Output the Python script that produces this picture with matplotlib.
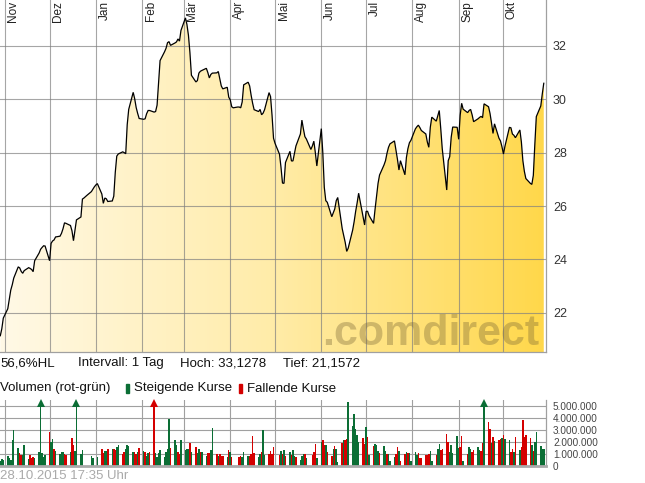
import numpy as np
import pandas as pd
import matplotlib
matplotlib.use('Agg')
import matplotlib.pyplot as plt
import matplotlib.dates as mdates
from matplotlib.path import Path
from matplotlib.colors import LinearSegmentedColormap

plt.rcParams['font.family'] = ['Liberation Sans', 'DejaVu Sans']

# ---------------- data ----------------
dates = pd.bdate_range('2014-10-29', '2015-10-28')

prices = [
    21.14, 21.4, 21.8,
    22.15, 22.5, 22.85, 23.05, 23.3,
    23.72, 23.68, 23.55, 23.48, 23.58,
    23.69, 23.66, 23.62, 23.54, 23.95,
    24.24, 24.38, 24.45, 24.51, 24.5,
    23.95, 24.6, 24.69, 24.73, 24.84,
    24.87, 24.98, 25.15, 25.37, 25.35,
    25.27, 25.07, 24.7, 25.1, 25.48,
    25.59, 26.26, 26.3, 26.35, 26.4,
    26.54, 26.63, 26.72, 26.79, 26.84,
    26.45, 26.10, 26.3, 26.27, 26.17,
    26.19, 26.37, 27.26, 27.87, 27.95,
    28.03, 28.0, 27.96, 29.05, 29.62,
    30.26, 30.02, 29.69, 29.47, 29.28,
    29.25, 29.27, 29.46, 29.58, 29.58,
    29.52, 29.54, 29.78, 30.6, 31.45,
    31.78, 31.91, 32.12, 32.16, 32.02,
    32.11, 32.15, 32.26, 32.18, 32.58,
    33.05, 32.8, 32.4, 31.75, 30.9,
    30.65, 30.7, 30.98, 31.05, 31.08,
    31.16, 31.0, 30.8, 30.93, 30.98,
    30.99, 31.04, 30.76, 30.5, 30.39,
    30.45, 30.08, 29.98, 29.72, 29.68,
    29.71, 29.71, 29.68, 29.9, 30.54,
    30.64, 30.5, 30.15, 29.85, 29.61,
    29.54, 29.62, 29.42, 29.48, 29.61,
    30.25, 30.1, 29.4, 28.54, 28.35,
    27.94, 27.45, 26.86, 26.85, 27.63,
    28.05, 27.69, 27.69, 27.96, 28.25,
    28.7, 29.22, 28.89, 28.6, 28.51,
    28.12, 28.25, 28.43, 28.0, 27.5,
    28.9, 28.0, 26.7, 26.2, 26.14,
    25.6, 25.74, 25.89, 26.2, 26.32,
    25.15, 24.9, 24.64, 24.3, 24.42,
    25.1, 25.42, 25.8, 26.12, 26.48,
    25.58, 25.29, 25.8, 25.8, 25.64,
    25.35, 25.88, 26.35, 26.85, 27.16,
    27.54, 27.7, 27.98, 28.2, 28.33,
    28.44, 28.1, 27.75, 27.35, 27.7,
    27.17, 27.82, 28.15, 28.37, 28.46,
    28.89, 28.97, 29.03, 28.94, 28.83,
    28.7, 28.4, 28.2, 28.95, 29.33,
    29.18, 29.38, 29.58, 28.9, 28.15,
    26.6, 27.7, 27.85, 28.58, 28.96,
    28.95, 28.5, 29.4, 29.85, 29.63,
    29.5, 29.58, 29.62, 29.42, 29.16,
    29.27, 29.32, 29.36, 29.31, 29.83,
    29.72, 29.47, 29.11, 28.72, 29.08,
    28.54, 28.44, 28.22, 27.95, 28.24,
    28.95, 28.93, 28.7, 28.65, 28.56,
    28.85, 28.4, 27.7, 27.3, 27.03,
    26.85, 26.81, 27.15, 28.3, 29.35,
    29.75, 30.2, 30.6,
]

# daily volume in millions of shares
volumes_mio = [
    0.39, 0.56, 0.45,
    0.81, 0.67, 0.47, 2.15, 2.99,
    1.51, 1.03, 0.89, 0.89, 1.73,
    0.56, 0.89, 0.67, 0.75, 0.67,
    1.12, 6.5, 1.03, 0.75, 0.89,
    2.79, 2.01, 2.23, 1.40, 1.23,
    1.0, 1.12, 1.17, 0.95, 0.89,
    1.12, 2.29, 1.68, 1.23, 6.5,
    0.95, 1.31, 0, 0, 0,
    0.81, 0.61, 0, 0, 0.73,
    1.40, 1.03, 1.23, 1.23, 1.40,
    1.40, 1.40, 1.31, 1.59, 1.73,
    0.95, 1.12, 1.40, 1.73, 1.65,
    1.12, 1.12, 1.0, 1.17, 1.45,
    1.23, 1.12, 0.81, 1.03, 1.12,
    6.5, 1.03, 0.75, 1.03, 1.31,
    0.75, 1.12, 1.40, 3.91, 1.45,
    2.15, 1.68, 1.12, 0.95, 2.15,
    1.31, 1.40, 1.40, 1.87, 1.12,
    1.54, 1.03, 1.40, 1.17, 1.12,
    0.81, 1.03, 1.03, 1.31, 3.13,
    0.95, 0.81, 0.95, 0.81, 0.81,
    0.75, 1.31, 1.12, 0.73, 0,
    0, 0.73, 0.81, 0.73, 1.12,
    0.81, 0.81, 0.95, 2.49, 1.03,
    0.73, 0.95, 1.12, 2.99, 0.89,
    0.95, 1.23, 0.95, 1.59, 0,
    0.9, 1.2, 1.0, 1.3, 0.8,
    1.1, 0.9, 1.3, 0.8, 0.7,
    0.5, 0.8, 1.0, 1.0, 0.6,
    0, 0.9, 1.1, 1.83, 0.6,
    1.97, 2.1, 1.69, 1.74, 1.12,
    0.79, 1.35, 1.63, 1.35, 0.3,
    1.91, 2.1, 2.1, 2.19, 5.48,
    3.31, 4.35, 3.03, 2.58, 1.97,
    2.3, 1.83, 3.23, 2.39, 0.9,
    1.63, 1.83, 1.69, 1.18, 1.07,
    1.63, 1.18, 0.98, 0.98, 0.4,
    0.7, 0.98, 1.54, 1.18, 0.4,
    0.98, 1.12, 1.07, 1.07, 0.4,
    1.12, 0.9, 1.07, 0.62, 0.62,
    0.9, 0.9, 0.98, 1.18, 0.4,
    0.84, 1.35, 1.83, 1.26, 1.4,
    2.67, 1.97, 1.12, 1.69, 1.07,
    2.47, 1.46, 1.54, 2.47, 0.4,
    0.98, 1.54, 1.4, 1.12, 1.26,
    1.54, 1.26, 1.18, 1.88, 6.5,
    3.65, 3.03, 1.91, 2.39, 2.02,
    2.1, 2.25, 2.3, 2.58, 2.19,
    2.1, 1.12, 1.4, 1.12, 2.39,
    1.26, 1.54, 3.79, 2.39, 2.53,
    2.3, 1.74, 1.18, 1.97, 2.81,
    1.63, 1.35, 1.35,
]

# g = steigend (rising), r = fallend (falling)
direction = "".join([
    "ggg", "ggggg", "grrgg", "grrrg", "ggggg", "rggrg", "gggrr", "grrgg",
    "ggggg", "ggggg", "rrggr", "grrgg", "rrggg", "grrgr", "grggr", "rgggg",
    "ggggr", "ggrrg", "gggrg", "rggrg", "grrgg", "rgrrr", "grgrg", "grrgg",
    "grrrr", "ggrgg", "rrrrg", "rgrgr", "grggr", "gggrg", "grrrg", "grrgr",
    "rgrgg", "rgrrg", "ggggg", "rrgrg", "rgggr", "ggrgg", "grrgr", "rgrgg",
    "ggrrr", "rrrgg", "rggrr", "rrggg", "ggrrg", "rggrr", "ggrrg", "rrgrg",
    "rrgrg", "grrgr", "grrrr", "rgrgg", "ggg",
])

month_labels = ['Nov', 'Dez', 'Jan', 'Feb', 'Mär', 'Apr', 'Mai', 'Jun',
                'Jul', 'Aug', 'Sep', 'Okt']
month_starts = pd.date_range('2014-11-01', '2015-10-01', freq='MS')
price_ticks = [22, 24, 26, 28, 30, 32]
vol_ticks = [0, 1, 2, 3, 4, 5]
vol_tick_labels = ['0', '1.000.000', '2.000.000', '3.000.000', '4.000.000', '5.000.000']
info_texts = ['56,6%HL', 'Intervall: 1 Tag', 'Hoch: 33,1278', 'Tief: 21,1572']
timestamp_text = '28.10.2015 17:35 Uhr'

assert len(dates) == len(prices) == len(volumes_mio) == len(direction)

# ---------------- layout ----------------
W, H = 645, 483
fig = plt.figure(figsize=(W / 100, H / 100), dpi=100)
fig.patch.set_facecolor('white')

def rect(x0, y0, x1, y1):
    return [x0 / W, 1 - y1 / H, (x1 - x0) / W, (y1 - y0) / H]

ax = fig.add_axes(rect(0, 0, 546, 352))
axv = fig.add_axes(rect(0, 400, 546, 465.5))

x_left = pd.Timestamp('2014-10-29') - pd.Timedelta(hours=5)
x_right = x_left + pd.Timedelta(days=365.7)
xl = mdates.date2num(x_left)
xr = mdates.date2num(x_right)
xd = mdates.date2num(dates.to_pydatetime())

ymin, ymax = 20.53, 33.72
GRID = dict(color='#808080', alpha=0.7, lw=0.8)

# gradient fill under the price line
cmap = LinearSegmentedColormap.from_list(
    'cd', [(1.0, 0.976, 0.905), (1.0, 0.925, 0.66), (1.0, 0.845, 0.29)])
grad = np.linspace(0, 1, 512).reshape(1, -1)
im = ax.imshow(grad, extent=[xl, xr, ymin, ymax], aspect='auto', cmap=cmap,
               origin='lower', zorder=1, interpolation='bilinear')
verts = [(xd[0], ymin)] + list(zip(xd, prices)) + [(xd[-1], ymin)]
im.set_clip_path(Path(verts), transform=ax.transData)

for m in month_starts:
    ax.axvline(mdates.date2num(m), zorder=2, **GRID)
for t in price_ticks:
    ax.axhline(t, zorder=2, **GRID)

ax.plot(xd, prices, color='black', lw=0.9, zorder=4, solid_joinstyle='miter')

ax.set_xlim(xl, xr)
ax.set_ylim(ymin, ymax)
ax.set_xticks([])
ax.yaxis.tick_right()
ax.set_yticks(price_ticks)
ax.set_yticklabels([str(t) for t in price_ticks])
ax.tick_params(axis='y', length=0, pad=5, labelsize=9, labelcolor='#333333')
for s in ['left', 'top']:
    ax.spines[s].set_visible(False)
for s in ['right', 'bottom']:
    ax.spines[s].set_color('#a0a0a0')
    ax.spines[s].set_linewidth(0.9)

for m, lab in zip(month_starts, month_labels):
    ax.text(mdates.date2num(m) + 1.7, ymax - 0.04, lab, rotation=90,
            ha='left', va='top', fontsize=8.5, color='#222222', zorder=5)

fig.text(322 / W, 1 - 345 / H, '.comdirect', fontsize=31, fontweight='bold',
         color=(0.45, 0.38, 0.2), alpha=0.35, ha='left', va='baseline', zorder=3)

# ---------------- volume panel ----------------
vtop = 5.5
for m in month_starts:
    axv.axvline(mdates.date2num(m), color='#a0a0a0', lw=0.8, zorder=1)
for t in vol_ticks[1:]:
    axv.axhline(t, color='#a0a0a0', lw=0.8, zorder=1)

colors = ['#0b6e35' if d == 'g' else '#d40000' for d in direction]
heights = [min(v, 5.3) for v in volumes_mio]
axv.bar(xd, heights, width=1.0, color=colors, linewidth=0, zorder=2)
for x, v, c in zip(xd, volumes_mio, colors):
    if v > vtop:
        axv.plot([x], [5.27], marker='^', ms=5.5, color=c, mew=0, zorder=3,
                 clip_on=False)

axv.set_xlim(xl, xr)
axv.set_ylim(0, vtop)
axv.set_xticks([])
axv.yaxis.tick_right()
axv.set_yticks(vol_ticks)
axv.set_yticklabels(vol_tick_labels)
axv.tick_params(axis='y', length=0, pad=5, labelsize=7.2, labelcolor='#444444')
for s in ['left', 'top']:
    axv.spines[s].set_visible(False)
axv.spines['right'].set_color('#a0a0a0')
axv.spines['right'].set_linewidth(0.9)
axv.spines['bottom'].set_color('#aaaaaa')
axv.spines['bottom'].set_linewidth(2.0)

# ---------------- text rows ----------------
for x, s in zip([0, 78, 180, 283], info_texts):
    fig.text(x / W, 1 - 363 / H, s, ha='left', va='center', fontsize=9.5,
             color='#111111')

fig.text(0, 1 - 388.5 / H, 'Volumen (rot-grün)', ha='left', va='center',
         fontsize=9.5, color='#111111')
fig.patches.append(plt.Rectangle((126 / W, 1 - 393 / H), 3.2 / W, 9 / H,
                                 transform=fig.transFigure, color='#0b6e35'))
fig.text(134 / W, 1 - 388.5 / H, 'Steigende Kurse', ha='left', va='center',
         fontsize=9.5, color='#111111')
fig.patches.append(plt.Rectangle((239 / W, 1 - 393 / H), 3.2 / W, 9 / H,
                                 transform=fig.transFigure, color='#d40000'))
fig.text(247 / W, 1 - 388.5 / H, 'Fallende Kurse', ha='left', va='center',
         fontsize=9.5, color='#111111')

fig.text(0, 1 - 476 / H, timestamp_text, ha='left', va='center',
         fontsize=9.5, color='#aaaaaa')

fig.savefig('out.png', dpi=100)
